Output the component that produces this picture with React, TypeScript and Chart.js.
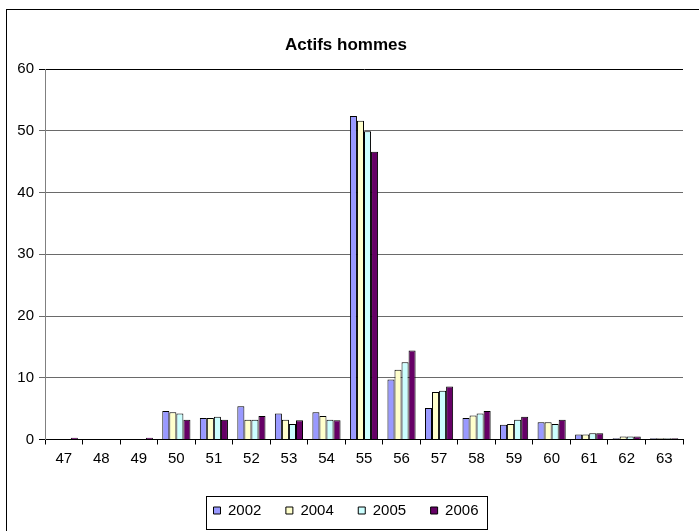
import React, { useEffect, useRef } from "react";
import { Chart, registerables } from "chart.js";

Chart.register(...registerables);

const categories = ["47", "48", "49", "50", "51", "52", "53", "54", "55", "56", "57", "58", "59", "60", "61", "62", "63"];
const series2002 = [0, 0, 0, 4.6, 3.5, 5.4, 4.2, 4.4, 52.4, 9.7, 5.1, 3.5, 2.4, 2.8, 0.8, 0.2, 0.2];
const series2004 = [0, 0, 0, 4.4, 3.5, 3.2, 3.2, 3.8, 51.6, 11.3, 7.7, 3.9, 2.5, 2.8, 0.8, 0.5, 0.2];
const series2005 = [0, 0, 0, 4.2, 3.7, 3.2, 2.5, 3.2, 49.9, 12.5, 7.9, 4.2, 3.2, 2.5, 1.0, 0.5, 0.2];
const series2006 = [0.3, 0, 0.3, 3.2, 3.2, 3.8, 3.1, 3.1, 46.6, 14.4, 8.6, 4.6, 3.7, 3.2, 1.0, 0.5, 0.2];
const seriesLabels = ["2002", "2004", "2005", "2006"];
const seriesColors = ["#9999FF", "#FFFFCC", "#CCFFFF", "#660066"];
const titleText = "Actifs hommes";
const yMin = 0;
const yMax = 60;
const yStep = 10;

const FONT = "'Liberation Sans', Arial, sans-serif";

const framePlugin = {
  id: "frame",
  afterDraw(chart: any) {
    const ctx = chart.ctx;
    ctx.save();
    ctx.strokeStyle = "#000";
    ctx.lineWidth = 1;
    // outer chart border
    ctx.strokeRect(6.5, 9.5, 900, 900);
    // legend border
    const lg = chart.legend;
    if (lg && lg.legendHitBoxes && lg.legendHitBoxes.length) {
      const hb = lg.legendHitBoxes;
      const first = hb[0];
      const last = hb[hb.length - 1];
      const left = Math.round(first.left - 8) + 0.5;
      const right = Math.round(last.left + last.width + 9) + 0.5;
      const cy = first.top + first.height / 2;
      const top = Math.round(cy - 15) + 0.5;
      const bottom = Math.round(cy + 18) + 0.5;
      ctx.strokeRect(left, top, right - left, bottom - top);
    }
    ctx.restore();
  },
};

export default function App() {
  const ref = useRef<HTMLCanvasElement | null>(null);
  useEffect(() => {
    if (!ref.current) return;
    const all = [series2002, series2004, series2005, series2006];
    const chart = new Chart(ref.current, {
      type: "bar",
      data: {
        labels: categories,
        datasets: all.map((d, i) => ({
          label: seriesLabels[i],
          data: d,
          backgroundColor: seriesColors[i],
          borderColor: "#000",
          borderWidth: 1,
          categoryPercentage: 0.75,
          barPercentage: 1.0,
        })),
      },
      options: {
        responsive: false,
        devicePixelRatio: 1,
        animation: false,
        layout: { padding: { left: 9, right: 16, top: 0, bottom: 3 } },
        plugins: {
          tooltip: { enabled: false },
          title: {
            display: true,
            text: titleText,
            color: "#000",
            font: { family: FONT, size: 17, weight: "bold" },
            padding: { top: 35, bottom: 13.6 },
          },
          legend: {
            position: "bottom",
            labels: {
              color: "#000",
              font: { family: FONT, size: 15 },
              boxWidth: 7,
              boxHeight: 7,
              padding: 24.5,
            },
          },
        },
        scales: {
          x: {
            grid: {
              offset: true,
              drawOnChartArea: false,
              drawTicks: true,
              tickLength: 5,
              color: "#000",
            },
            border: { color: "#000", width: 1 },
            ticks: {
              color: "#000",
              font: { family: FONT, size: 15 },
              padding: 5,
              maxRotation: 0,
              autoSkip: false,
            },
            afterFit(scale: any) {
              scale.height = 39;
            },
          },
          y: {
            min: yMin,
            max: yMax,
            grid: {
              color: (c: any) => (c.tick && (c.tick.value === yMax || c.tick.value === 0) ? "#000" : "#6a6a6a"),
              tickLength: 6,
              drawTicks: true,
            },
            border: { color: "#808080", width: 1 },
            ticks: {
              stepSize: yStep,
              color: "#000",
              font: { family: FONT, size: 15 },
              padding: 5,
            },
            afterFit(scale: any) {
              scale.width = 36;
            },
          },
        },
      },
      plugins: [framePlugin],
    });
    return () => chart.destroy();
  }, []);
  return (
    <div style={{ position: "fixed", left: 0, top: 0, width: 699, height: 531, background: "#fff" }}>
      <canvas ref={ref} width={699} height={531} style={{ display: "block" }} />
    </div>
  );
}
